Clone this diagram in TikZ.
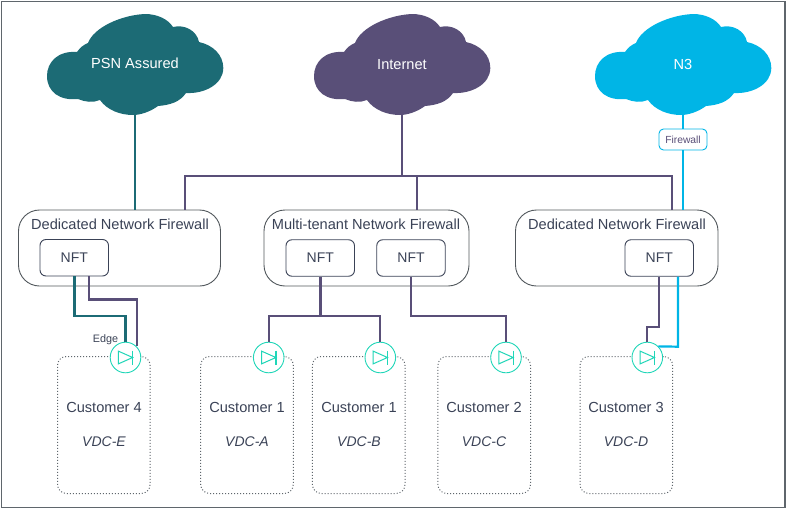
\documentclass[tikz,border=0pt]{standalone}
\usepackage{fontspec}
\setmainfont{Liberation Sans}
\definecolor{tealc}{HTML}{1C6B75}
\definecolor{purplec}{HTML}{594F78}
\definecolor{bluec}{HTML}{00B5E6}
\definecolor{edgec}{HTML}{1FD6B8}
\definecolor{textc}{HTML}{3A4256}
\definecolor{framec}{HTML}{5F666C}
\newcommand{\cloudshape}[2]{%
  \fill[#2,shift={(#1,0)}] (77,52) .. controls (80,47.5) and (84,44.5) .. (88,43)
    .. controls (94,27) and (122,15) .. (145,14)
    .. controls (157,14) and (168,19) .. (173,27)
    .. controls (185,24) and (197,31) .. (199,42)
    .. controls (213,45) and (223.3,55) .. (223.3,68)
    .. controls (223.3,84) and (205,94) .. (186,93)
    .. controls (180,102) and (170,105) .. (158,106)
    .. controls (150,112) and (140,115) .. (133,115)
    .. controls (120,115) and (107,110) .. (100,100)
    .. controls (93,103) and (85,102) .. (78,99)
    .. controls (60,101) and (47,92) .. (47,76)
    .. controls (47,62) and (58,50.5) .. (77,52) -- cycle;}
\newcommand{\diode}[1]{%
  \draw[edgec,line width=1pt,line join=miter] ([xshift=-7.2pt,yshift=6.4pt]#1.center) -- ([xshift=7.2pt]#1.center) -- ([xshift=-7.2pt,yshift=-6.4pt]#1.center) -- cycle;
  \draw[edgec,line width=1.2pt] ([xshift=7.2pt,yshift=7pt]#1.center) -- ([xshift=7.2pt,yshift=-7pt]#1.center);}
\tikzset{
  x=1pt,y=-1pt,
  cloudtext/.style={minimum width=176pt,minimum height=101pt,inner sep=0pt},
  cloudlbl/.style={text=white,inner sep=0pt,font=\fontsize{14.6}{16}\selectfont},
  fwbox/.style={draw=framec!85!black,line width=0.9pt,rounded corners=21pt,minimum width=#1,minimum height=76pt,inner sep=0pt},
  nftbox/.style={draw=textc,line width=0.9pt,rounded corners=6pt,minimum width=68.5pt,minimum height=36.5pt,inner sep=0pt,text=textc,font=\fontsize{14}{16}\selectfont},
  lbl/.style={text=textc,inner sep=0pt,font=\fontsize{14.6}{16}\selectfont},
  vdclbl/.style={lbl,font=\fontsize{14}{16}\selectfont\itshape},
  custbox/.style={draw=framec,line width=1pt,dotted,rounded corners=9pt,minimum width=92.6pt,minimum height=137pt,inner sep=0pt},
  edgenode/.style={circle,draw=edgec,fill=white,line width=0.9pt,minimum size=30.6pt,inner sep=0pt},
  tealline/.style={tealc,line width=2.2pt},
  purpleline/.style={purplec,line width=2.2pt},
  blueline/.style={bluec,line width=2.2pt},
  gatebox/.style={draw=bluec,fill=white,line width=0.9pt,rounded corners=4.5pt,minimum width=48pt,minimum height=21pt,inner sep=0pt,text=purplec,font=\fontsize{10.3}{12}\selectfont},
}
\begin{document}
\begin{tikzpicture}
\useasboundingbox (0,0) rectangle (788,509);
\node[draw=framec,line width=1.3pt,minimum width=783.5pt,minimum height=506pt,inner sep=0pt] (frame) at (393.25,254.5) {};
% clouds
\cloudshape{0}{tealc}
\cloudshape{267}{purplec}
\cloudshape{548}{bluec}
\node[cloudtext] (psn) at (135,64.5) {};
\node[cloudtext] (inet) at (402,64.5) {};
\node[cloudtext] (nthree) at (683,64.5) {};
\node[cloudlbl] (psnt) at (135,63.5) {PSN Assured};
\node[cloudlbl] (inett) at (402,64.5) {Internet};
\node[cloudlbl] (nthreet) at (683,64.5) {N3};
% firewalls
\node[fwbox=202pt] (fwa) at (119.5,248) {};
\node[fwbox=205pt] (fwb) at (366.5,248) {};
\node[fwbox=202.5pt] (fwc) at (616.75,248) {};
\node[lbl] (fwal) at (120,224) {Dedicated Network Firewall};
\node[lbl] (fwbl) at (366,224.5) {Multi-tenant Network Firewall};
\node[lbl] (fwcl) at (617,224.5) {Dedicated Network Firewall};
\node[nftbox] (nfta) at (74.25,257.75) {NFT};
\node[nftbox] (nftb) at (320.25,258) {NFT};
\node[nftbox] (nftc) at (411,258) {NFT};
\node[nftbox] (nftd) at (659.25,258) {NFT};
\node[gatebox] (gate) at (683,139.5) {Firewall};
% customers
\node[custbox] (ce) at (103.8,425) {};
\node[custbox] (ca) at (247,425) {};
\node[custbox] (cb) at (358.7,425) {};
\node[custbox] (cc) at (484.2,425) {};
\node[custbox] (cd) at (626.3,425) {};
\node[lbl] (cel) at (104,407) {Customer 4};
\node[lbl] (cal) at (247,407) {Customer 1};
\node[lbl] (cbl) at (359,407) {Customer 1};
\node[lbl] (ccl) at (484,407) {Customer 2};
\node[lbl] (cdl) at (626,407) {Customer 3};
\node[vdclbl] (cev) at (104,442) {VDC-E};
\node[vdclbl] (cav) at (247,442) {VDC-A};
\node[vdclbl] (cbv) at (359,442) {VDC-B};
\node[vdclbl] (ccv) at (484,442) {VDC-C};
\node[vdclbl] (cdv) at (626,442) {VDC-D};
% edges
\node[edgenode] (ee) at (125.5,357.5) {};
\node[edgenode] (ea) at (268.7,357.5) {};
\node[edgenode] (eb) at (380.3,357.5) {};
\node[edgenode] (ec) at (506,357.5) {};
\node[edgenode] (ed) at (647.3,357.5) {};
\diode{ee}\diode{ea}\diode{eb}\diode{ec}\diode{ed}
\node[text=textc,inner sep=0pt,font=\fontsize{10.8}{12}\selectfont] (edgelbl) at (105.5,340) {Edge};
% upstream connectors
\coordinate (busy) at (0,176);
\coordinate (jointa) at (185,176);
\coordinate (jointb) at (417,176);
\coordinate (jointc) at (672,176);
\draw[tealline] (psn.south) -- (psn.south |- fwa.north);
\draw[purpleline] (inet.south) -- (inet.south |- busy);
\draw[purpleline,line join=miter] (jointa |- fwa.north) -- (jointa) -- (jointc) -- (jointc |- fwc.north);
\draw[purpleline] (jointb) -- (jointb |- fwb.north);
\draw[blueline] (nthree.south) -- (gate.north);
\draw[blueline] (gate.south) -- (gate.south |- fwc.north);
% downstream connectors
\coordinate (tapa) at (74.5,316);
\coordinate (tapb) at (89,299.5);
\draw[tealline] (tapa |- nfta.south) -- (tapa) -- (tapa -| ee.north) -- (ee.north);
\draw[purpleline] (tapb |- nfta.south) -- (tapb) -- (tapb -| ee.45) -- (ee.45);
\coordinate (tapc) at (320.5,316);
\draw[purpleline] (tapc |- nftb.south) -- (tapc);
\draw[purpleline] (ea.north) -- (ea.north |- tapc) -- (eb.north |- tapc) -- (eb.north);
\coordinate (tapd) at (411,316);
\draw[purpleline] (tapd |- nftc.south) -- (tapd) -- (tapd -| ec.north) -- (ec.north);
\coordinate (tape) at (659.3,327.3);
\draw[purpleline] (tape |- nftd.south) -- (tape) -- (tape -| ed.north) -- (ed.north);
\coordinate (tapf) at (678,346.7);
\draw[blueline] (tapf |- nftd.south) -- (tapf) -- (ed.45);
\end{tikzpicture}
\end{document}
